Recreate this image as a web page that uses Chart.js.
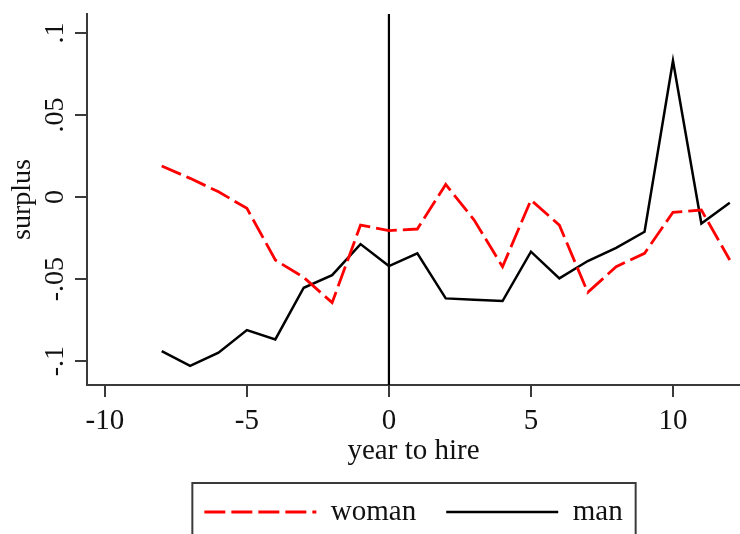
<!DOCTYPE html>
<html><head><meta charset="utf-8">
<script src="https://cdn.jsdelivr.net/npm/chart.js@4.4.1/dist/chart.umd.min.js"></script>
<style>
html,body{margin:0;padding:0;background:#fff;overflow:hidden;width:740px;height:534px}
#wrap{position:absolute;left:0;top:0;width:740px;height:560px}
</style>
</head><body>
<div id="wrap"><canvas id="c" width="740" height="560" style="width:740px;height:560px"></canvas></div>
<script>
const years = [-8,-7,-6,-5,-4,-3,-2,-1,0,1,2,3,4,5,6,7,8,9,10,11,12];
const woman = [0.0189,0.0114,0.0032,-0.0069,-0.0384,-0.0490,-0.0644,-0.0171,-0.0205,-0.0195,0.0077,-0.0140,-0.0425,-0.0018,-0.0171,-0.0581,-0.0425,-0.0343,-0.0093,-0.0079,-0.0384];
const man = [-0.0939,-0.1030,-0.0949,-0.0811,-0.0868,-0.0553,-0.0476,-0.0287,-0.0421,-0.0343,-0.0618,-0.0626,-0.0634,-0.0333,-0.0496,-0.0390,-0.0310,-0.0212,0.0831,-0.0161,-0.0035];
const seriesLabels = ['woman','man'];
const xTickValues = [-10,-5,0,5,10];
const xTickLabels = ['-10','-5','0','5','10'];
const yTickValues = [-0.1,-0.05,0,0.05,0.1];
const yTickLabels = ['-.1','-.05','0','.05','.1'];
const xRange = [-10.63, 12.36];
const yRange = [-0.1146, 0.1116];
const hireYear = 0;

const FONT = '"Liberation Serif","Times New Roman",serif';
const TEXT = '#111';
const AXIS = '#3a3a3a';

const yLabelsPlugin = {
  id: 'yLabels',
  afterDraw(chart) {
    const s = chart.scales.y, ctx = chart.ctx;
    ctx.save();
    ctx.fillStyle = TEXT;
    ctx.font = '28px ' + FONT;
    ctx.textAlign = 'center';
    ctx.textBaseline = 'alphabetic';
    yTickValues.forEach((v, i) => {
      const py = s.getPixelForValue(v);
      ctx.save();
      ctx.translate(s.right - 24, py);
      ctx.rotate(-Math.PI / 2);
      ctx.fillText(yTickLabels[i], 0, 0);
      ctx.restore();
    });
    ctx.restore();
  }
};

const legendBoxPlugin = {
  id: 'legendBox',
  afterDraw(chart) {
    const lg = chart.legend;
    const hb = lg.legendHitBoxes;
    if (!hb || !hb.length) return;
    const last = hb[hb.length - 1];
    const left = hb[0].left - 12;
    const right = last.left + last.width + 13;
    const top = lg.top + 15.5;
    const ctx = chart.ctx;
    ctx.save();
    ctx.strokeStyle = AXIS;
    ctx.lineWidth = 2;
    ctx.setLineDash([]);
    ctx.strokeRect(left, top, right - left, 120);
    ctx.restore();
  }
};

new Chart(document.getElementById('c'), {
  type: 'line',
  data: {
    datasets: [
      { label: seriesLabels[0], data: years.map((x, i) => ({x, y: woman[i]})),
        borderColor: '#ff0000', borderWidth: 2.8, borderDash: [21, 6], pointRadius: 0, tension: 0, fill: false },
      { label: seriesLabels[1], data: years.map((x, i) => ({x, y: man[i]})),
        borderColor: '#000000', borderWidth: 2.5, pointRadius: 0, tension: 0, fill: false },
      { label: 'hire', data: [{x: hireYear, y: yRange[0]}, {x: hireYear, y: yRange[1]}],
        borderColor: '#000000', borderWidth: 2.2, pointRadius: 0, tension: 0, fill: false }
    ]
  },
  options: {
    responsive: false,
    devicePixelRatio: 1,
    animation: false,
    events: [],
    layout: { padding: { left: 0, right: 0, top: 14, bottom: 23.5 } },
    scales: {
      x: {
        type: 'linear', min: xRange[0], max: xRange[1],
        afterBuildTicks: s => { s.ticks = xTickValues.map(v => ({value: v})); },
        afterFit: s => { s.height = 82.5; },
        ticks: { callback: v => xTickLabels[xTickValues.indexOf(v)], color: TEXT, padding: 7,
                 font: { family: FONT, size: 29 }, maxRotation: 0, autoSkip: false },
        grid: { drawOnChartArea: false, drawTicks: true, tickLength: 12, color: AXIS, lineWidth: 2 },
        border: { display: true, color: AXIS, width: 2 },
        title: { display: true, text: 'year to hire', color: TEXT, padding: 0,
                 font: { family: FONT, size: 29, lineHeight: 1.1 } }
      },
      y: {
        type: 'linear', min: yRange[0], max: yRange[1],
        afterBuildTicks: s => { s.ticks = yTickValues.map(v => ({value: v})); },
        afterFit: s => { s.width = 87; },
        ticks: { display: false },
        grid: { drawOnChartArea: false, drawTicks: true, tickLength: 12, color: AXIS, lineWidth: 2 },
        border: { display: true, color: AXIS, width: 2 },
        title: { display: true, text: 'surplus', color: TEXT, padding: { top: 6, bottom: 0 },
                 font: { family: FONT, size: 28, lineHeight: 1.2 } }
      }
    },
    plugins: {
      tooltip: { enabled: false },
      legend: {
        display: true, position: 'bottom', fullSize: false, align: 'center',
        labels: {
          usePointStyle: true, pointStyle: 'line', pointStyleWidth: 112, padding: 30,
          color: TEXT, font: { family: FONT, size: 29 },
          generateLabels: chart => chart.data.datasets.slice(0, 2).map((d, i) => ({
            text: d.label, strokeStyle: d.borderColor, fillStyle: d.borderColor,
            lineWidth: d.borderWidth, lineDash: d.borderDash || [], lineCap: 'butt',
            pointStyle: 'line', hidden: false, datasetIndex: i, fontColor: TEXT
          }))
        }
      }
    }
  },
  plugins: [yLabelsPlugin, legendBoxPlugin]
});
</script>
</body></html>
